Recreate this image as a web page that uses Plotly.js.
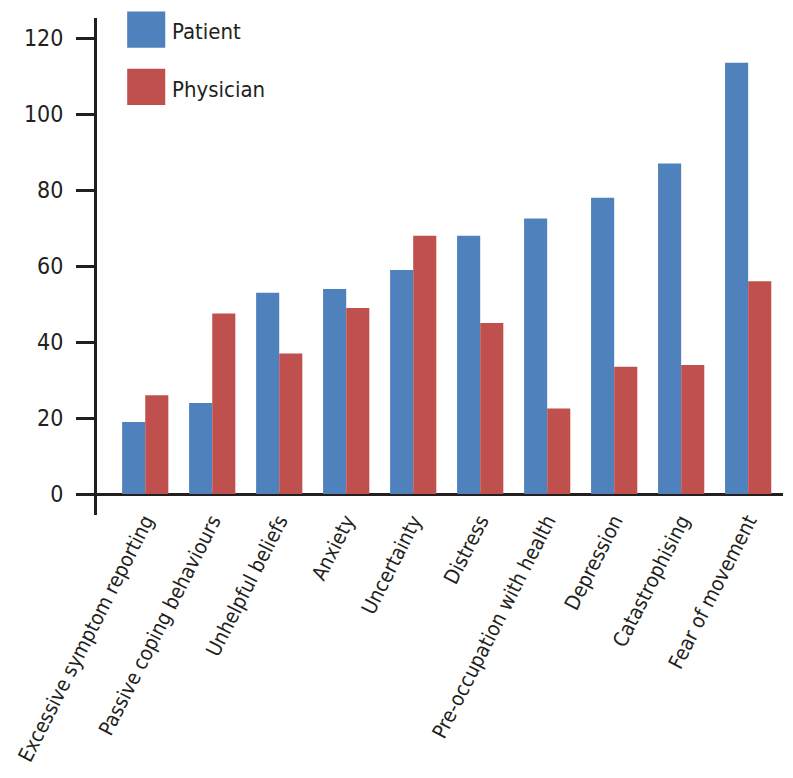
<!DOCTYPE html>
<html>
<head>
<meta charset="utf-8">
<script src="https://cdn.plot.ly/plotly-3.0.1.min.js"></script>
<style>html,body{margin:0;padding:0;background:#fff;}#chart{width:793px;height:778px;}</style>
</head>
<body>
<div id="chart"></div>
<script>
var categories = ["Excessive symptom reporting", "Passive coping behaviours", "Unhelpful beliefs", "Anxiety", "Uncertainty", "Distress", "Pre-occupation with health", "Depression", "Catastrophising", "Fear of movement"];
var patientValues = [19, 24, 53, 54, 59, 68, 72.5, 78, 87, 113.5];
var physicianValues = [26, 47.5, 37, 49, 68, 45, 22.5, 33.5, 34, 56];
var seriesNames = ["Patient", "Physician"];
var seriesColors = ["#4F81BD", "#C0504D"];
var yTicks = [0, 20, 40, 60, 80, 100, 120];

var FONT = "'Liberation Sans Narrow', 'DejaVu Sans Condensed', 'Arial Narrow', sans-serif";
var AX = "#231f20";

var traces = [
  {type: "bar", name: seriesNames[0], x: categories, y: patientValues, marker: {color: seriesColors[0]}},
  {type: "bar", name: seriesNames[1], x: categories, y: physicianValues, marker: {color: seriesColors[1]}}
];

var layout = {
  width: 793, height: 778,
  margin: {l: 97, r: 10, t: 18, b: 263},
  paper_bgcolor: "#fff", plot_bgcolor: "#fff",
  showlegend: false,
  barmode: "group",
  bargap: 0.31, bargroupgap: 0,
  font: {family: FONT, color: AX},
  xaxis: {
    type: "category", range: [-0.72, 9.52],
    showline: false, showgrid: false, zeroline: false, ticks: "",
    tickangle: -63, tickfont: {family: FONT, size: 20.5, color: AX},
    ticklabelstandoff: -11
  },
  yaxis: {
    range: [-5.5, 125.3], tickvals: yTicks, ticktext: yTicks.map(String),
    showline: true, linecolor: AX, linewidth: 3,
    ticks: "outside", ticklen: 18, tickwidth: 3, tickcolor: AX,
    showgrid: false, zeroline: true, zerolinecolor: AX, zerolinewidth: 3,
    tickfont: {family: FONT, size: 23, color: AX}, ticklabelstandoff: 8
  },
  shapes: [
    {type: "rect", xref: "paper", yref: "paper", x0: 0.044, x1: 0.0995, y0: 1.013, y1: 0.94, fillcolor: seriesColors[0], line: {width: 0}},
    {type: "rect", xref: "paper", yref: "paper", x0: 0.044, x1: 0.0995, y0: 0.898, y1: 0.825, fillcolor: seriesColors[1], line: {width: 0}}
  ],
  annotations: [
    {xref: "paper", yref: "paper", x: 0.106, y: 0.972, xanchor: "left", yanchor: "middle", text: seriesNames[0], showarrow: false, font: {family: FONT, size: 22, color: AX}},
    {xref: "paper", yref: "paper", x: 0.106, y: 0.857, xanchor: "left", yanchor: "middle", text: seriesNames[1], showarrow: false, font: {family: FONT, size: 22, color: AX}}
  ]
};

Plotly.newPlot("chart", traces, layout, {displayModeBar: false, staticPlot: true});
</script>
</body>
</html>
